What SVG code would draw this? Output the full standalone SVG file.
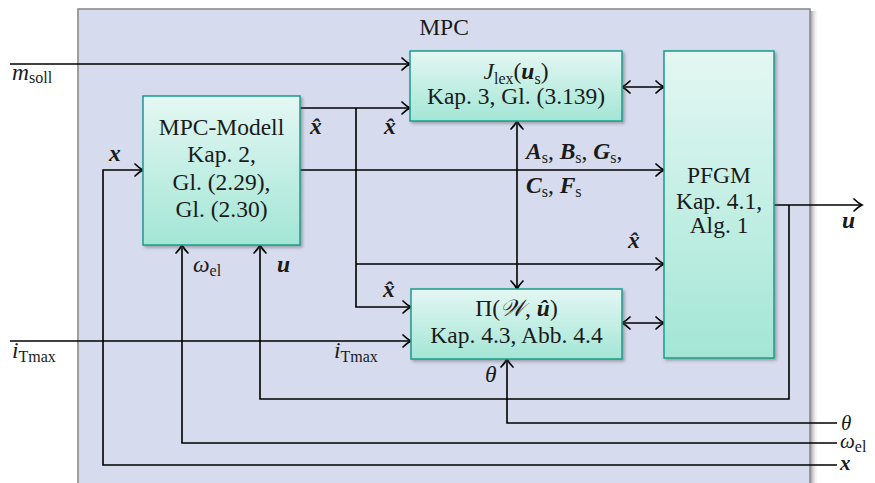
<svg xmlns="http://www.w3.org/2000/svg" width="875" height="483" viewBox="0 0 875 483">
<style>
.t{font-family:"Liberation Serif","DejaVu Serif",serif;font-size:23.5px;fill:#1a1a1a}
.c{text-anchor:middle}
.i{font-style:italic}
.b{font-style:italic;font-weight:bold}
.s{font-size:16px;font-style:normal;font-weight:normal}
.r{font-size:21px}
.box{fill:url(#g);stroke:#1a9c8c;stroke-width:1.5;filter:url(#sh)}
.ln{fill:none;stroke:#000;stroke-width:1.6}
.a{marker-end:url(#arr)}
.d{marker-start:url(#arr);marker-end:url(#arr)}
</style>
<defs>
<linearGradient id="g" x1="0" y1="0" x2="0" y2="1">
<stop offset="0" stop-color="#e4f7f3"/>
<stop offset="1" stop-color="#a3e6d5"/>
</linearGradient>
<linearGradient id="os" x1="0" y1="0" x2="1" y2="0">
<stop offset="0" stop-color="#777" stop-opacity="0.8"/>
<stop offset="1" stop-color="#fff" stop-opacity="0"/>
</linearGradient>
<filter id="sh" x="-10%" y="-10%" width="130%" height="130%">
<feDropShadow dx="2" dy="2" stdDeviation="1.5" flood-color="#555" flood-opacity="0.45"/>
</filter>
<marker id="arr" markerWidth="14" markerHeight="16" refX="11" refY="8" orient="auto-start-reverse" markerUnits="userSpaceOnUse">
<path d="M3,2 Q7,6 11,8 Q7,10 3,14" fill="none" stroke="#000" stroke-width="1.7" stroke-linecap="round"/>
</marker>
</defs>
<g id="mpc">
<rect x="810" y="11" width="9" height="480" fill="url(#os)"/>
<rect x="78" y="9" width="732" height="490" fill="#d6dcee" stroke="#8c8c8c" stroke-width="1.6"/>
<text class="t c" x="444" y="35">MPC</text>
</g>
<g id="connectors">
<path class="ln a" d="M10,64 H410"/>
<path class="ln a" d="M300,108 H410"/>
<path class="ln a" d="M356,108 V307 H411"/>
<path class="ln a" d="M356,264 H664"/>
<path class="ln a" d="M300,170 H664"/>
<path class="ln d" d="M517,121 V289"/>
<path class="ln d" d="M622,87 H664"/>
<path class="ln d" d="M622,323 H664"/>
<path class="ln a" d="M774,205 H862"/>
<path class="ln a" d="M789,205 V399 H260 V245"/>
<path class="ln a" d="M837,423 H507 V359"/>
<path class="ln a" d="M837,443 H182 V245"/>
<path class="ln a" d="M837,465 H103 V170 H143"/>
<path class="ln a" d="M10,341 H411"/>
</g>
<g id="model">
<rect class="box" x="143" y="96" width="157" height="149"/>
<text class="t c" x="221.5" y="135">MPC-Modell</text>
<text class="t c" x="221.5" y="162">Kap. 2,</text>
<text class="t c" x="221.5" y="190">Gl. (2.29),</text>
<text class="t c" x="221.5" y="217">Gl. (2.30)</text>
</g>
<g id="jlex">
<rect class="box" x="410" y="51" width="212" height="70"/>
<text class="t c" x="516" y="79"><tspan class="i">J</tspan><tspan class="s" baseline-shift="-5">lex</tspan>(<tspan class="b">u</tspan><tspan class="s" baseline-shift="-5">s</tspan>)</text>
<text class="t c" x="516" y="104">Kap. 3, Gl. (3.139)</text>
</g>
<g id="pi">
<rect class="box" x="411" y="289" width="211" height="70"/>
<text class="t c" x="516.5" y="316">Π(<tspan class="i">𝒲</tspan>, <tspan class="b">u&#770;</tspan>)</text>
<text class="t c" x="516.5" y="343">Kap. 4.3, Abb. 4.4</text>
</g>
<g id="pfgm">
<rect class="box" x="664" y="51" width="110" height="307"/>
<text class="t c" x="719" y="183">PFGM</text>
<text class="t c" x="719" y="209">Kap. 4.1,</text>
<text class="t c" x="719" y="233">Alg. 1</text>
</g>
<g id="labels">
<text class="t" x="12" y="80"><tspan class="i">m</tspan><tspan class="s" baseline-shift="-3">soll</tspan></text>
<text class="t" x="12" y="358"><tspan class="i">i</tspan><tspan class="s" baseline-shift="-4">Tmax</tspan></text>
<text class="t" x="334" y="358"><tspan class="i">i</tspan><tspan class="s" baseline-shift="-4">Tmax</tspan></text>
<text class="t b" x="109" y="161">x</text>
<text class="t b" x="310" y="134">x&#770;</text>
<text class="t b" x="384" y="134">x&#770;</text>
<text class="t b" x="628" y="248">x&#770;</text>
<text class="t b" x="383" y="297">x&#770;</text>
<text class="t" x="526" y="159"><tspan class="b">A</tspan><tspan class="s" baseline-shift="-4">s</tspan>, <tspan class="b">B</tspan><tspan class="s" baseline-shift="-4">s</tspan>, <tspan class="b">G</tspan><tspan class="s" baseline-shift="-4">s</tspan>,</text>
<text class="t" x="526" y="193"><tspan class="b">C</tspan><tspan class="s" baseline-shift="-4">s</tspan>, <tspan class="b">F</tspan><tspan class="s" baseline-shift="-4">s</tspan></text>
<text class="t" x="193" y="272"><tspan class="i">ω</tspan><tspan class="s" baseline-shift="-4">el</tspan></text>
<text class="t b" x="277" y="272">u</text>
<text class="t i" x="485" y="382">θ</text>
<text class="t b" x="842" y="228">u</text>
<text class="t i r" x="841" y="430">θ</text>
<text class="t r" x="840" y="448"><tspan class="i">ω</tspan><tspan class="s" baseline-shift="-4">el</tspan></text>
<text class="t b r" x="840" y="470">x</text>
</g>
</svg>
